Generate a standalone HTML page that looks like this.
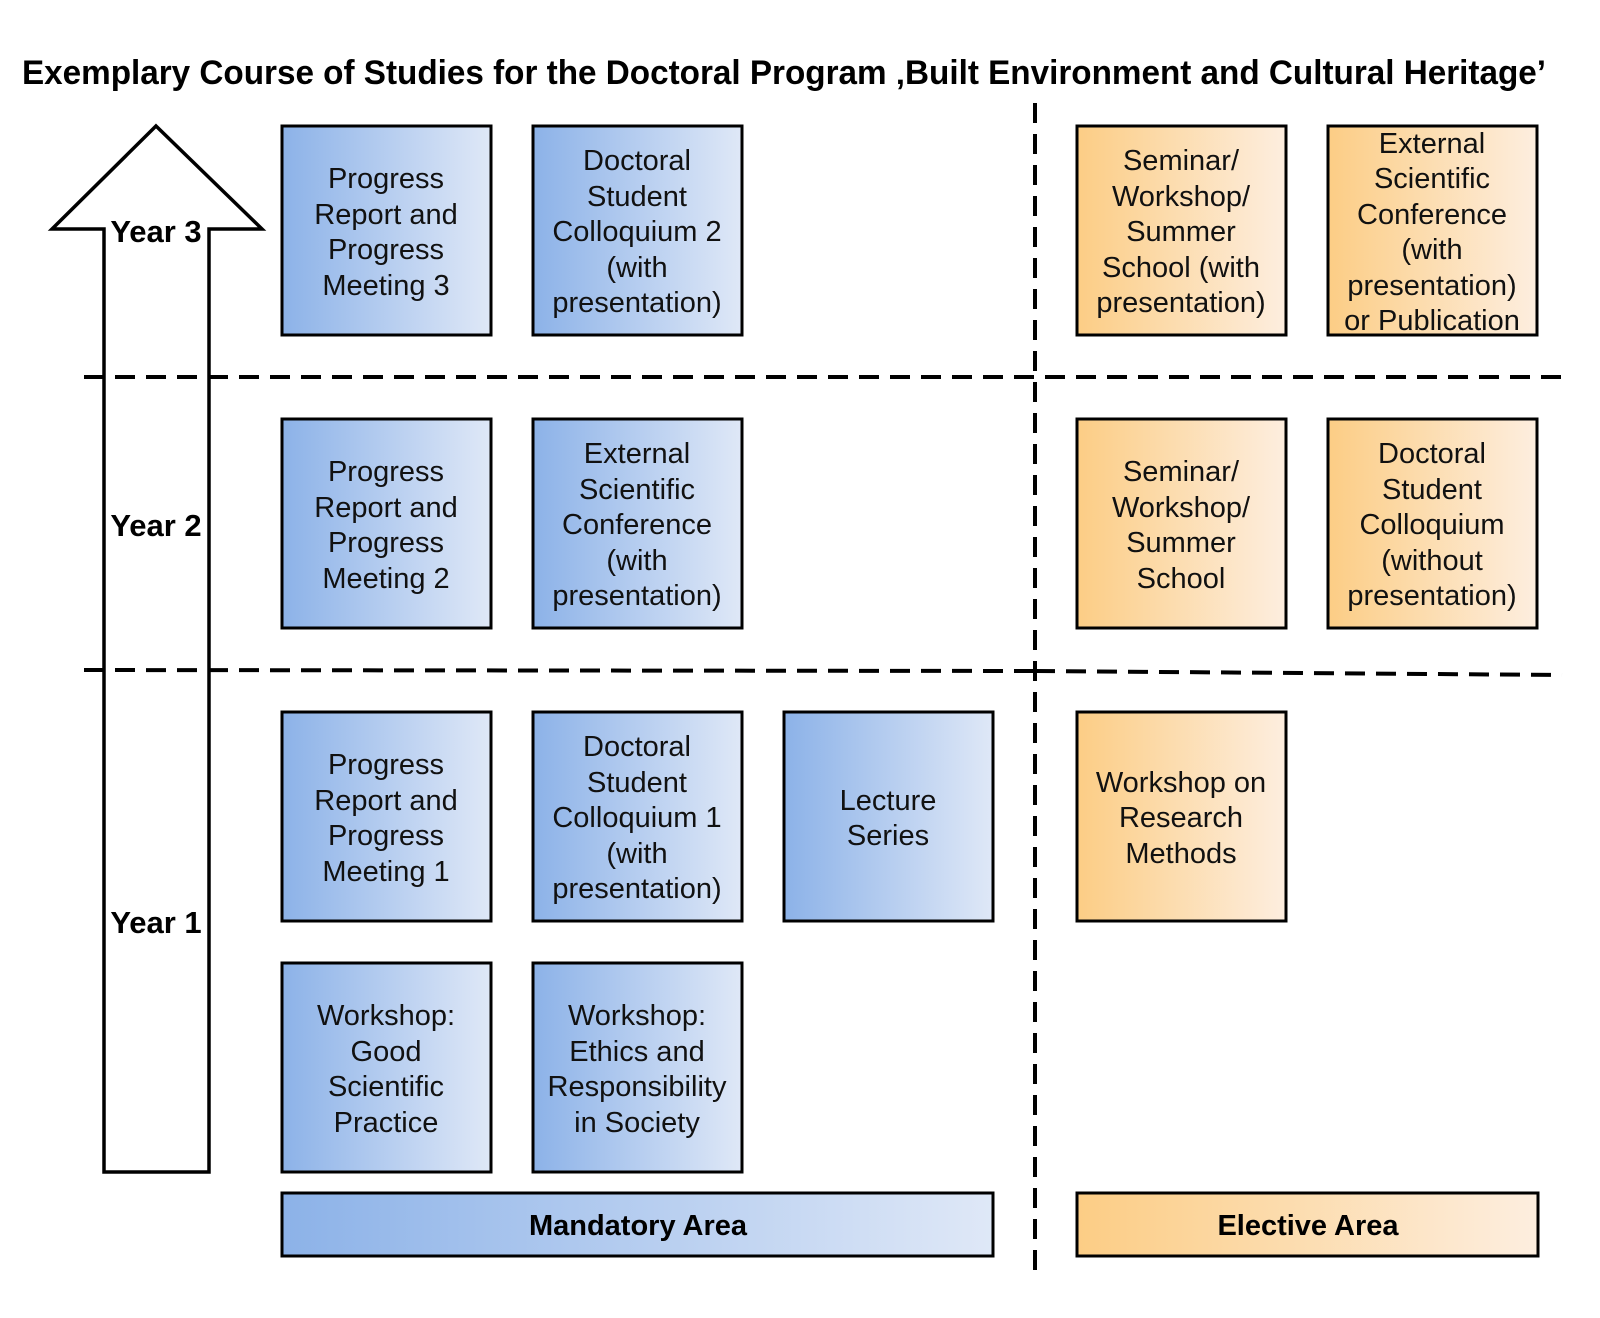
<!DOCTYPE html>
<html><head><meta charset="utf-8"><style>html,body{margin:0;padding:0;background:#fff}svg{display:block}</style></head>
<body>
<svg width="1600" height="1318" viewBox="0 0 1600 1318" xmlns="http://www.w3.org/2000/svg" font-family="Liberation Sans, Arial, sans-serif">
<defs>
<linearGradient id="b" x1="0" x2="1" y1="0" y2="0"><stop offset="0" stop-color="#8cb2e8"/><stop offset="1" stop-color="#dfe8f7"/></linearGradient>
<linearGradient id="o" x1="0" x2="1" y1="0" y2="0"><stop offset="0" stop-color="#fccd85"/><stop offset="1" stop-color="#fdeedf"/></linearGradient>
</defs>
<rect width="1600" height="1318" fill="#fff"/>
<text x="22" y="84" font-size="34" font-weight="bold" textLength="1524" lengthAdjust="spacingAndGlyphs">Exemplary Course of Studies for the Doctoral Program ‚Built Environment and Cultural Heritage’</text>

<!-- arrow -->
<polygon points="156,126 262,229 209,229 209,1172 104,1172 104,229 52,229" fill="#fff" stroke="#000" stroke-width="3.5"/>

<!-- dashed lines -->
<g stroke="#000" stroke-width="4" stroke-dasharray="20 11" fill="none">
<line x1="84" y1="377" x2="1562" y2="377"/>
<line x1="84" y1="670" x2="1035" y2="671"/>
<line x1="1035" y1="671" x2="1562" y2="675"/>
<line x1="1035" y1="103" x2="1035" y2="1272"/>
</g>

<g font-size="31" font-weight="bold" text-anchor="middle">
<rect x="108" y="214" width="96" height="34" fill="#fff"/>
<text x="156" y="242">Year 3</text>
<text x="156" y="536">Year 2</text>
<text x="156" y="933">Year 1</text>
</g>

<!-- boxes -->
<g stroke="#000" stroke-width="3">
<rect x="282" y="126" width="209" height="209" fill="url(#b)"/>
<rect x="533" y="126" width="209" height="209" fill="url(#b)"/>
<rect x="1077" y="126" width="209" height="209" fill="url(#o)"/>
<rect x="1328" y="126" width="209" height="209" fill="url(#o)"/>
<rect x="282" y="419" width="209" height="209" fill="url(#b)"/>
<rect x="533" y="419" width="209" height="209" fill="url(#b)"/>
<rect x="1077" y="419" width="209" height="209" fill="url(#o)"/>
<rect x="1328" y="419" width="209" height="209" fill="url(#o)"/>
<rect x="282" y="712" width="209" height="209" fill="url(#b)"/>
<rect x="533" y="712" width="209" height="209" fill="url(#b)"/>
<rect x="784" y="712" width="209" height="209" fill="url(#b)"/>
<rect x="1077" y="712" width="209" height="209" fill="url(#o)"/>
<rect x="282" y="963" width="209" height="209" fill="url(#b)"/>
<rect x="533" y="963" width="209" height="209" fill="url(#b)"/>
<rect x="282" y="1193" width="711" height="63" fill="url(#b)"/>
<rect x="1077" y="1193" width="461" height="63" fill="url(#o)"/>
</g>

<g font-size="29" text-anchor="middle" fill="#111">
<text x="386" y="188">Progress</text><text x="386" y="224">Report and</text><text x="386" y="259">Progress</text><text x="386" y="295">Meeting 3</text>
<text x="637" y="170">Doctoral</text><text x="637" y="206">Student</text><text x="637" y="241">Colloquium 2</text><text x="637" y="277">(with</text><text x="637" y="312">presentation)</text>
<text x="1181" y="170">Seminar/</text><text x="1181" y="206">Workshop/</text><text x="1181" y="241">Summer</text><text x="1181" y="277">School (with</text><text x="1181" y="312">presentation)</text>
<text x="1432" y="153">External</text><text x="1432" y="188">Scientific</text><text x="1432" y="224">Conference</text><text x="1432" y="259">(with</text><text x="1432" y="295">presentation)</text><text x="1432" y="330">or Publication</text>
<text x="386" y="481">Progress</text><text x="386" y="517">Report and</text><text x="386" y="552">Progress</text><text x="386" y="588">Meeting 2</text>
<text x="637" y="463">External</text><text x="637" y="499">Scientific</text><text x="637" y="534">Conference</text><text x="637" y="570">(with</text><text x="637" y="605">presentation)</text>
<text x="1181" y="481">Seminar/</text><text x="1181" y="517">Workshop/</text><text x="1181" y="552">Summer</text><text x="1181" y="588">School</text>
<text x="1432" y="463">Doctoral</text><text x="1432" y="499">Student</text><text x="1432" y="534">Colloquium</text><text x="1432" y="570">(without</text><text x="1432" y="605">presentation)</text>
<text x="386" y="774">Progress</text><text x="386" y="810">Report and</text><text x="386" y="845">Progress</text><text x="386" y="881">Meeting 1</text>
<text x="637" y="756">Doctoral</text><text x="637" y="792">Student</text><text x="637" y="827">Colloquium 1</text><text x="637" y="863">(with</text><text x="637" y="898">presentation)</text>
<text x="888" y="810">Lecture</text><text x="888" y="845">Series</text>
<text x="1181" y="792">Workshop on</text><text x="1181" y="827">Research</text><text x="1181" y="863">Methods</text>
<text x="386" y="1025">Workshop:</text><text x="386" y="1061">Good</text><text x="386" y="1096">Scientific</text><text x="386" y="1132">Practice</text>
<text x="637" y="1025">Workshop:</text><text x="637" y="1061">Ethics and</text><text x="637" y="1096">Responsibility</text><text x="637" y="1132">in Society</text>
</g>
<g font-size="29" font-weight="bold" text-anchor="middle">
<text x="638" y="1235">Mandatory Area</text>
<text x="1308" y="1235">Elective Area</text>
</g>
</svg>
</body></html>
